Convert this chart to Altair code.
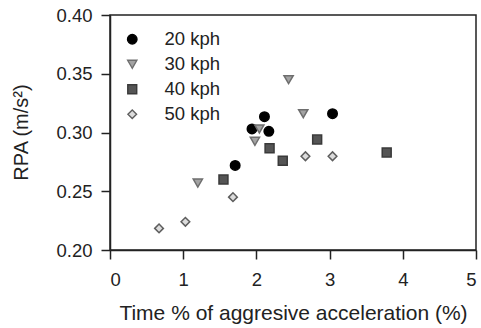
import altair as alt
import pandas as pd

series = ["20 kph", "30 kph", "40 kph", "50 kph"]
x20 = [1.94, 2.11, 2.17, 1.71, 3.04]
y20 = [0.303, 0.3135, 0.301, 0.272, 0.316]
x30 = [2.44, 2.64, 2.04, 1.98, 1.20]
y30 = [0.345, 0.316, 0.303, 0.2925, 0.257]
x40 = [2.18, 2.36, 2.83, 3.78, 1.55]
y40 = [0.2866, 0.276, 0.294, 0.283, 0.260]
x50 = [0.67, 1.03, 1.68, 2.67, 3.04]
y50 = [0.2184, 0.224, 0.245, 0.2798, 0.2798]

rows = []
for name, xs, ys in zip(series, [x20, x30, x40, x50], [y20, y30, y40, y50]):
    for a, b in zip(xs, ys):
        rows.append({"speed": name, "x": a, "y": b})
df = pd.DataFrame(rows)

fills = ["#000000", "#a3a3a3", "#555555", "#dcdcdc"]
strokes = ["#000000", "#6e6e6e", "#3a3a3a", "#5e5e5e"]
shapes = ["circle", "triangle-down", "square", "diamond"]
sizes = [90, 75, 64, 165]

FONT = "Liberation Sans"

leg = alt.Legend(title=None, orient="none", legendX=13, legendY=15,
                 labelFontSize=18.5, labelOffset=23,
                 rowPadding=6, symbolStrokeWidth=1.4, padding=0)

chart = alt.Chart(df).mark_point(filled=True, opacity=1, strokeWidth=1.5).encode(
    x=alt.X("x:Q", title="Time % of aggresive acceleration (%)",
            scale=alt.Scale(domain=[0, 5], nice=False),
            axis=alt.Axis(values=[0, 1, 2, 3, 4, 5], format="d", grid=False,
                          tickSize=9, labelPadding=11, labelFontSize=18.5,
                          titleFontSize=21, titleFontWeight="normal",
                          titleX=183, titleY=69, titleBaseline="alphabetic",
                          titleAnchor="middle")),
    y=alt.Y("y:Q", title="RPA (m/s²)",
            scale=alt.Scale(domain=[0.2, 0.4], nice=False, zero=False),
            axis=alt.Axis(values=[0.2, 0.25, 0.3, 0.35, 0.4], format=".2f", grid=False,
                          tickSize=9, labelPadding=9, labelFontSize=18.5,
                          titleFontSize=20, titleFontWeight="normal",
                          titleX=-83, titleY=117, titleBaseline="alphabetic",
                          titleAlign="center", titleAngle=-90)),
    shape=alt.Shape("speed:N", scale=alt.Scale(domain=series, range=shapes), legend=leg),
    fill=alt.Fill("speed:N", scale=alt.Scale(domain=series, range=fills), legend=leg),
    stroke=alt.Stroke("speed:N", scale=alt.Scale(domain=series, range=strokes), legend=leg),
    size=alt.Size("speed:N", scale=alt.Scale(domain=series, range=sizes), legend=leg),
).properties(
    width=366, height=235,
    autosize=alt.AutoSizeParams(type="none"),
    padding={"left": 110, "top": 15, "right": 5, "bottom": 78},
).configure(
    font=FONT,
).configure_view(
    stroke="#222222", strokeWidth=1.5,
).configure_axis(
    domainColor="#222222", domainWidth=1.5, tickColor="#222222", tickWidth=1.5,
    labelColor="#222222", titleColor="#222222", labelFont=FONT, titleFont=FONT,
).configure_legend(
    labelColor="#222222", labelFont=FONT,
)

chart.save("out.html", embed_options={"renderer": "svg", "actions": False})
